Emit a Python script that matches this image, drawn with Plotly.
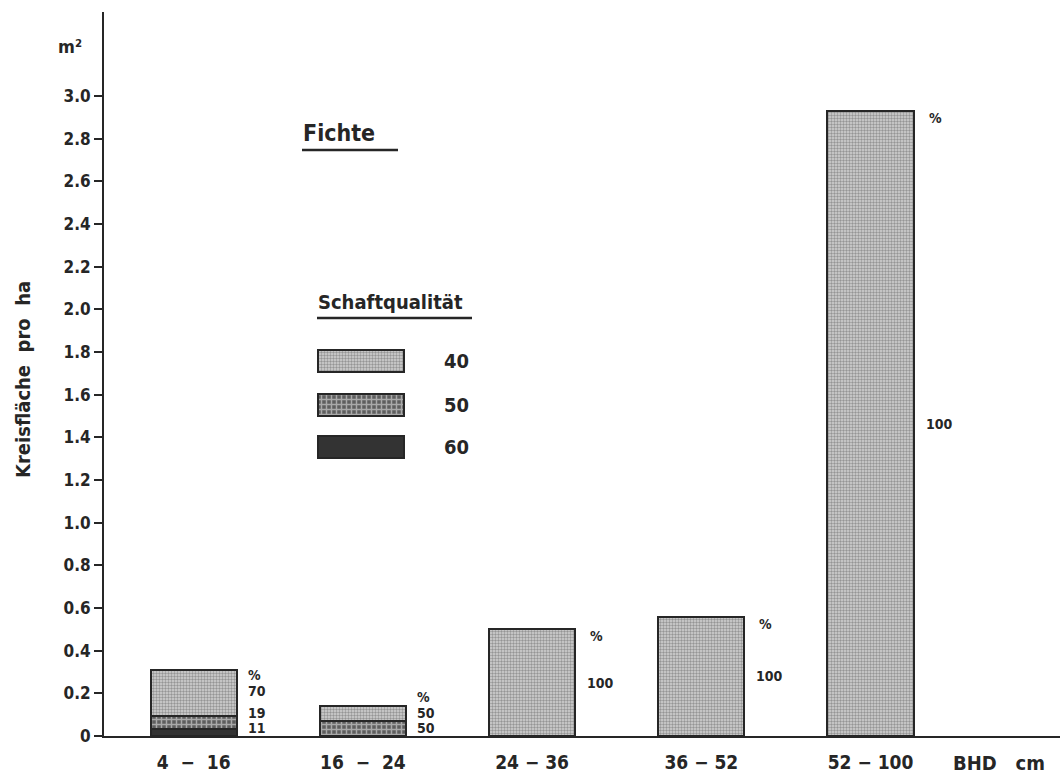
import plotly.graph_objects as go

# Diameter classes (BHD, cm) and basal area per hectare (m²)
classes = ["4  −  16", "16  −  24", "24 − 36", "36 − 52", "52 − 100"]
totals = [0.31, 0.14, 0.50, 0.56, 2.93]

# Share of each stem-quality class in percent
pct_40 = [70, 50, 100, 100, 100]
pct_50 = [19, 50, 0, 0, 0]
pct_60 = [11, 0, 0, 0, 0]

quality_names = ["40", "50", "60"]

yticks = [0, 0.2, 0.4, 0.6, 0.8, 1.0, 1.2, 1.4, 1.6, 1.8, 2.0, 2.2, 2.4, 2.6, 2.8, 3.0]
ytick_text = ["0"] + [f"{v:.1f}" for v in yticks[1:]]

# plot-area geometry in pixels
L, R, T, B = 104, 1060, 12, 736
INK = "#262626"
FONT = "DejaVu Sans Condensed"


def px(x):
    return (x - L) / (R - L)


def py(y):
    return (B - y) / (B - T)


seg_60 = [t * p / 100 for t, p in zip(totals, pct_60)]
seg_50 = [t * p / 100 for t, p in zip(totals, pct_50)]
seg_40 = [t * p / 100 for t, p in zip(totals, pct_40)]

styles = {
    "40": dict(shape=".", fgcolor="#555555", bgcolor="#d4d4d4", size=3, solidity=0.5),
    "50": dict(shape="+", fgcolor="#f4f4f4", bgcolor="#5e5e5e", size=5, solidity=0.5),
    "60": dict(shape="", fgcolor="#333333", bgcolor="#333333"),
}
fills = {"40": "#b5b5b5", "50": "#8a8a8a", "60": "#333333"}

bar_w = 0.51
xi = list(range(len(classes)))

fig = go.Figure()
for name, seg in (("60", seg_60), ("50", seg_50), ("40", seg_40)):
    fig.add_trace(go.Bar(
        x=xi, y=seg, width=bar_w, name=name, showlegend=False,
        marker=dict(color=fills[name], pattern=styles[name],
                    line=dict(color=INK, width=2.2)),
    ))

# legend swatches drawn on a pixel-scaled overlay axis
leg_y = [360.5, 405, 446.5]
for name, yy in zip(quality_names, leg_y):
    fig.add_trace(go.Bar(
        x=[86], y=[yy], base=[318], width=[22], orientation="h",
        xaxis="x2", yaxis="y2", showlegend=False, hoverinfo="skip",
        marker=dict(color=fills[name], pattern=styles[name],
                    line=dict(color=INK, width=2.2)),
    ))
    fig.add_annotation(x=px(442), y=py(yy), xref="paper", yref="paper",
                       text=name, showarrow=False, xanchor="left", yanchor="middle",
                       font=dict(family=FONT, size=20, color=INK, weight="bold"))

ann_font = dict(family=FONT, size=14, color=INK, weight="bold")

# percentage labels beside each bar
for i, tot in enumerate(totals):
    xr = i + bar_w / 2
    segs = [(pct_60[i], seg_60[i], 0.0),
            (pct_50[i], seg_50[i], seg_60[i]),
            (pct_40[i], seg_40[i], seg_60[i] + seg_50[i])]
    items = []
    for p, s, b in segs:
        if p > 0:
            items.append((p, b + s / 2))
    if tot < 0.4:
        # small bars: stack labels tightly from the baseline upward
        n = len(items)
        for k, (p, mid) in enumerate(items):
            fig.add_annotation(x=xr, y=0, text=str(p), showarrow=False,
                               xanchor="left", xshift=9, yanchor="middle",
                               yshift=8 + 15 * k + (7 if (n == 3 and k == 2) else 0),
                               font=ann_font)
        top_shift = 8 + 15 * n + (7 if n == 3 else 0) + 1
        fig.add_annotation(x=xr, y=0, text="%", showarrow=False,
                           xanchor="left", xshift=9, yanchor="middle",
                           yshift=top_shift, font=ann_font)
    else:
        for p, mid in items:
            fig.add_annotation(x=xr, y=mid, text=str(p), showarrow=False,
                               xanchor="left", xshift=10, yanchor="middle",
                               font=ann_font)
        fig.add_annotation(x=xr, y=tot, text="%", showarrow=False,
                           xanchor="left", xshift=13, yanchor="middle",
                           yshift=-7, font=ann_font)

# titles and units
fig.add_annotation(x=px(301), y=py(133), xref="paper", yref="paper", text="Fichte",
                   showarrow=False, xanchor="left", yanchor="middle",
                   font=dict(family=FONT, size=23, color=INK, weight="bold"))
fig.add_shape(type="line", xref="paper", yref="paper",
              x0=px(302), x1=px(398), y0=py(150), y1=py(150),
              line=dict(color=INK, width=2.5))
fig.add_annotation(x=px(316), y=py(302), xref="paper", yref="paper",
                   text="Schaftqualität", showarrow=False, xanchor="left",
                   yanchor="middle",
                   font=dict(family=FONT, size=20, color=INK, weight="bold"))
fig.add_shape(type="line", xref="paper", yref="paper",
              x0=px(317), x1=px(472), y0=py(318), y1=py(318),
              line=dict(color=INK, width=2.5))
fig.add_annotation(x=px(70), y=py(46), xref="paper", yref="paper", text="m²",
                   showarrow=False, xanchor="center", yanchor="middle",
                   font=dict(family=FONT, size=18, color=INK, weight="bold"))
fig.add_annotation(x=px(23), y=py(380), xref="paper", yref="paper",
                   text="Kreisfläche  pro  ha", showarrow=False, textangle=-90,
                   xanchor="center", yanchor="middle",
                   font=dict(family=FONT, size=20, color=INK, weight="bold"))
fig.add_annotation(x=px(999), y=py(763), xref="paper", yref="paper",
                   text="BHD   cm", showarrow=False, xanchor="center", yanchor="middle",
                   font=dict(family=FONT, size=20, color=INK, weight="bold"))

fig.update_layout(
    width=1060, height=781,
    margin=dict(l=L, r=0, t=T, b=781 - B),
    plot_bgcolor="white", paper_bgcolor="white",
    barmode="stack", bargap=0,
    showlegend=False,
    xaxis=dict(
        range=[-0.53, 5.12], tickvals=xi, ticktext=classes,
        showgrid=False, zeroline=False, showline=True, linecolor=INK,
        linewidth=2, ticks="", ticklabelstandoff=8,
        tickfont=dict(family=FONT, size=19, color=INK, weight="bold"),
    ),
    yaxis=dict(
        range=[0, (B - T) / 213.3], tickvals=yticks, ticktext=ytick_text,
        showgrid=False, zeroline=False, showline=True, linecolor=INK,
        linewidth=2, ticks="outside", ticklen=8, tickwidth=2, tickcolor=INK,
        tickfont=dict(family=FONT, size=17, color=INK, weight="bold"),
    ),
    xaxis2=dict(overlaying="x", range=[L, R], visible=False, fixedrange=True),
    yaxis2=dict(overlaying="y", range=[B, T], visible=False, fixedrange=True),
)

fig.write_html("out.html")
